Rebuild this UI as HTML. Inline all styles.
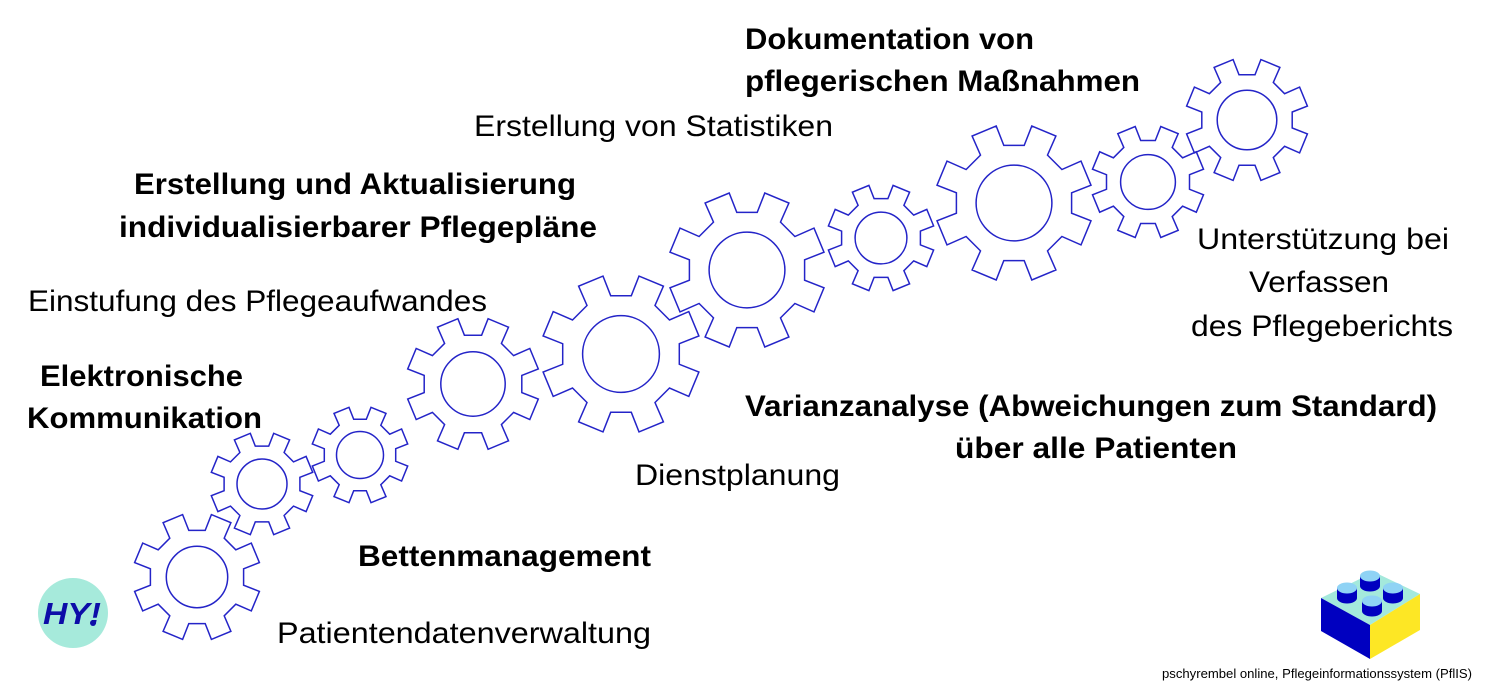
<!DOCTYPE html>
<html><head><meta charset="utf-8"><style>
html,body{margin:0;padding:0;background:#fff;}
svg{display:block;}
text{font-family:"Liberation Sans",sans-serif;fill:#000;}
.b{font-weight:bold;}
</style></head><body>
<svg id="s" width="1502" height="687" viewBox="0 0 1502 687" xmlns="http://www.w3.org/2000/svg">
<g id="gears" fill="none" stroke="#2424c8" stroke-width="1.5"></g>
<g font-size="30">
<text class="b" x="745" y="49" textLength="289" lengthAdjust="spacingAndGlyphs">Dokumentation von</text>
<text class="b" x="745" y="91" textLength="395" lengthAdjust="spacingAndGlyphs">pflegerischen Maßnahmen</text>
<text x="474" y="136" textLength="359" lengthAdjust="spacingAndGlyphs">Erstellung von Statistiken</text>
<text class="b" x="134" y="194" textLength="442" lengthAdjust="spacingAndGlyphs">Erstellung und Aktualisierung</text>
<text class="b" x="119" y="237" textLength="478" lengthAdjust="spacingAndGlyphs">individualisierbarer Pflegepläne</text>
<text x="28" y="311" textLength="459" lengthAdjust="spacingAndGlyphs">Einstufung des Pflegeaufwandes</text>
<text class="b" x="40" y="386" textLength="203" lengthAdjust="spacingAndGlyphs">Elektronische</text>
<text class="b" x="27" y="428" textLength="235" lengthAdjust="spacingAndGlyphs">Kommunikation</text>
<text class="b" x="358" y="566" textLength="293" lengthAdjust="spacingAndGlyphs">Bettenmanagement</text>
<text x="277" y="643" textLength="374" lengthAdjust="spacingAndGlyphs">Patientendatenverwaltung</text>
<text x="635" y="485" textLength="205" lengthAdjust="spacingAndGlyphs">Dienstplanung</text>
<text class="b" x="745" y="416" textLength="692" lengthAdjust="spacingAndGlyphs">Varianzanalyse (Abweichungen zum Standard)</text>
<text class="b" x="955" y="458" textLength="282" lengthAdjust="spacingAndGlyphs">über alle Patienten</text>
<text x="1197" y="249" textLength="252" lengthAdjust="spacingAndGlyphs">Unterstützung bei</text>
<text x="1249" y="292" textLength="140" lengthAdjust="spacingAndGlyphs">Verfassen</text>
<text x="1191" y="336" textLength="262" lengthAdjust="spacingAndGlyphs">des Pflegeberichts</text>
</g>
<text x="1162" y="678" font-size="13" textLength="310" lengthAdjust="spacingAndGlyphs">pschyrembel online, Pflegeinformationssystem (PflIS)</text>
<circle cx="73" cy="613" r="35" fill="#a6eadb"/>
<text x="43" y="624" font-size="31" font-weight="bold" font-style="italic" style="fill:#0d0da8" textLength="58" lengthAdjust="spacingAndGlyphs">HY!</text>
<circle cx="93" cy="623" r="3" fill="#0d0da8"/>
<polygon points="1321,598 1374,572 1420,594 1370,625" fill="#a4e9dc"/>
<polygon points="1321,598 1370,625 1370,659 1321,631" fill="#0000c0"/>
<polygon points="1370,625 1420,594 1420,630 1370,659" fill="#fde725"/>
<g id="studs"></g>
</svg>
<script>
function gear(cx,cy,R){
  var n=8, r=R*0.74, th=9.5*Math.PI/180, rh=12.5*Math.PI/180, p=[];
  for(var i=0;i<n;i++){
    var a=(22.5+45*i)*Math.PI/180;
    p.push([cx+r*Math.cos(a-rh),cy-r*Math.sin(a-rh)]);
    p.push([cx+R*Math.cos(a-th),cy-R*Math.sin(a-th)]);
    p.push([cx+R*Math.cos(a+th),cy-R*Math.sin(a+th)]);
    p.push([cx+r*Math.cos(a+rh),cy-r*Math.sin(a+rh)]);
  }
  var d='M'+p.map(function(q){return q[0].toFixed(1)+','+q[1].toFixed(1)}).join(' L')+' Z';
  return '<path d="'+d+'"/><circle cx="'+cx+'" cy="'+cy+'" r="'+(R*0.48).toFixed(1)+'"/>';
}
var G=[[197,577,64],[262,484,52],[360,455,49],[473,384,67],[621,354,80],[747,270,79],[881,238,54],[1014,203,79],[1148,182,57],[1247,120,62]];
document.getElementById('gears').innerHTML=G.map(function(g){return gear(g[0],g[1],g[2])}).join('');
var S=[[1370,576],[1347,588],[1393,588],[1372,601]],h='';
S.forEach(function(s){var x=s[0],y=s[1];
h+='<path d="M'+(x-10)+','+y+' v10 a10,5.5 0 0 0 20,0 v-10 z" fill="#0000c0"/><ellipse cx="'+x+'" cy="'+y+'" rx="10" ry="5.5" fill="#8fd3f5"/>';});
document.getElementById('studs').innerHTML=h;
</script>
</body></html>
